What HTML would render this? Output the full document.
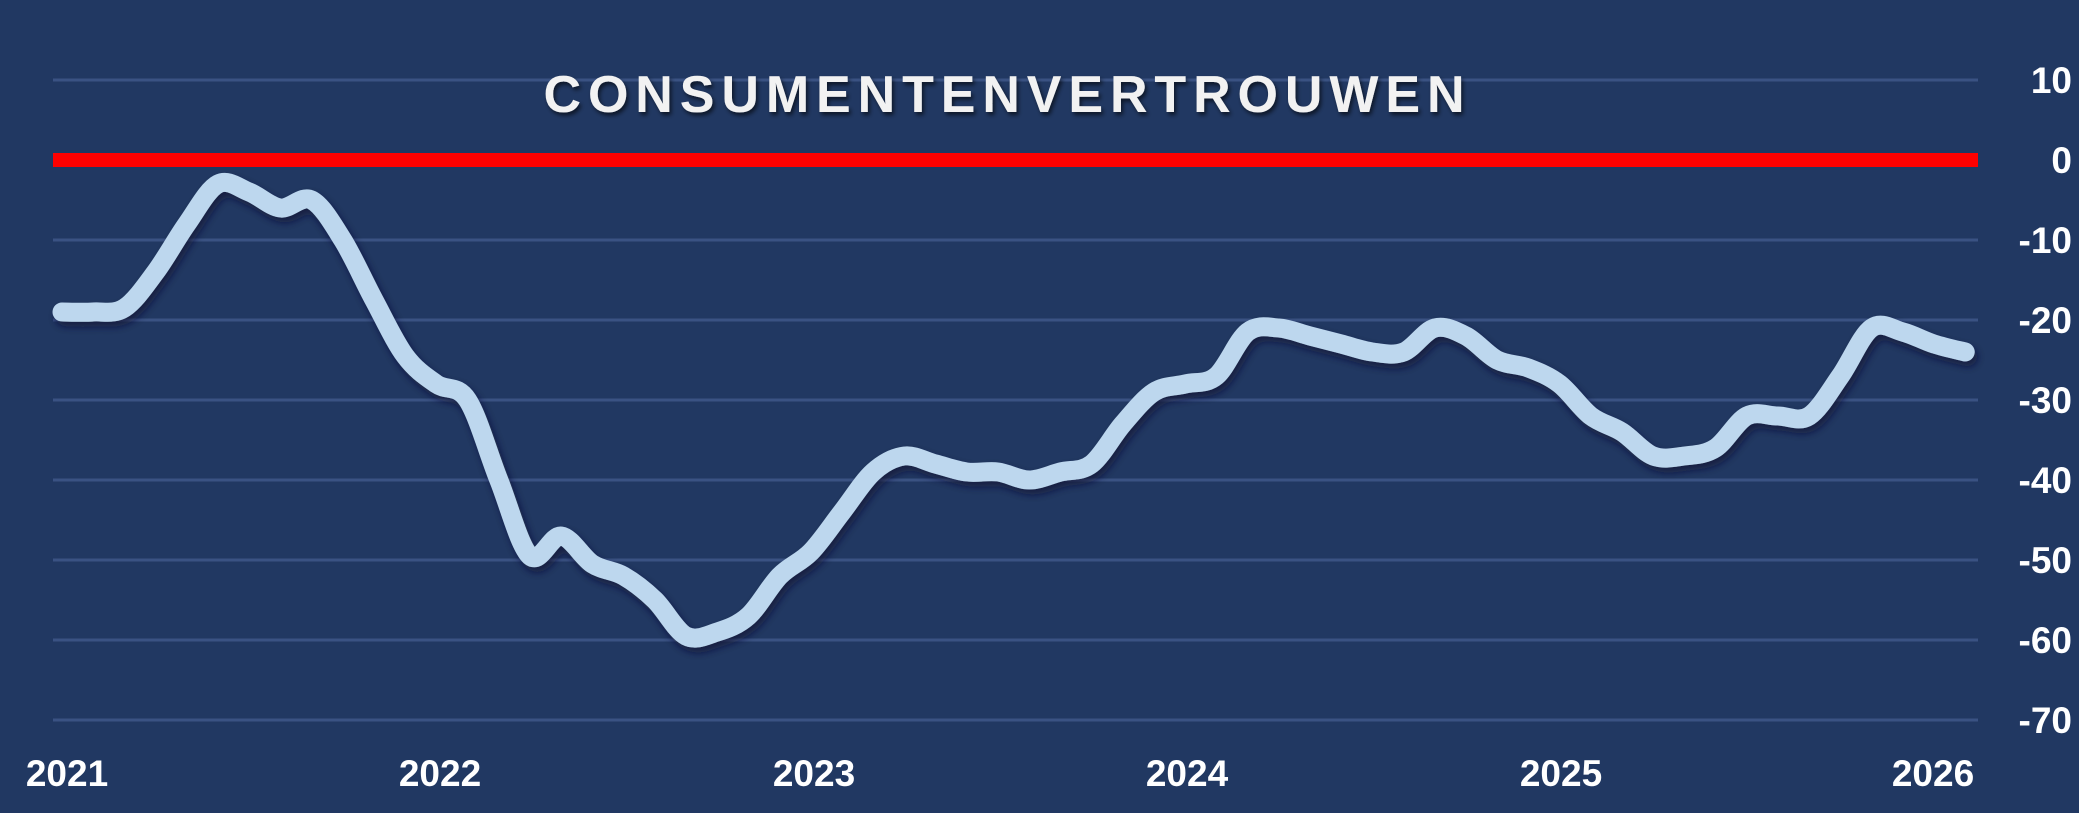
<!DOCTYPE html>
<html><head><meta charset="utf-8"><style>
html,body{margin:0;padding:0;background:#213862;}
svg{display:block}
</style></head><body>
<svg id="s" width="2079" height="813" viewBox="0 0 2079 813" xmlns="http://www.w3.org/2000/svg">
<defs><filter id="sh" x="-5%" y="-20%" width="110%" height="140%"><feDropShadow dx="3" dy="5" stdDeviation="4" flood-color="#0a1530" flood-opacity="0.7"/></filter>
<filter id="ts"><feDropShadow dx="2" dy="3" stdDeviation="2" flood-color="#000" flood-opacity="0.6"/></filter></defs>
<rect width="2079" height="813" fill="#213862"/>
<g stroke="#3a5283" stroke-width="3">
<line x1="53" x2="1978" y1="80" y2="80"/><line x1="53" x2="1978" y1="240" y2="240"/><line x1="53" x2="1978" y1="320" y2="320"/><line x1="53" x2="1978" y1="400" y2="400"/><line x1="53" x2="1978" y1="480" y2="480"/><line x1="53" x2="1978" y1="560" y2="560"/><line x1="53" x2="1978" y1="640" y2="640"/><line x1="53" x2="1978" y1="720" y2="720"/>
</g>
<rect x="53" y="153" width="1925" height="14" fill="#ff0000"/>
<text x="1004" y="112" text-anchor="middle" font-family="Liberation Sans, sans-serif" font-weight="bold" font-size="52" fill="#f2f2f2" textLength="921" lengthAdjust="spacing" filter="url(#ts)">CONSUMENTENVERTROUWEN</text>
<path id="ln" fill="none" stroke="#bdd7ee" stroke-width="19" stroke-linecap="round" stroke-linejoin="round" filter="url(#sh)"/>
<g font-family="Liberation Sans, sans-serif" font-weight="bold" font-size="37" fill="#ffffff" text-anchor="end">
<text x="2072" y="93">10</text><text x="2072" y="173">0</text><text x="2072" y="253">-10</text><text x="2072" y="333">-20</text><text x="2072" y="413">-30</text><text x="2072" y="493">-40</text><text x="2072" y="573">-50</text><text x="2072" y="653">-60</text><text x="2072" y="733">-70</text>
</g>
<g font-family="Liberation Sans, sans-serif" font-weight="bold" font-size="37" fill="#ffffff" text-anchor="middle">
<text x="67" y="786">2021</text><text x="440" y="786">2022</text><text x="814" y="786">2023</text><text x="1187" y="786">2024</text><text x="1561" y="786">2025</text><text x="1933" y="786">2026</text>
</g>
</svg>
<script>
var v=[-19,-19,-18.5,-14,-8,-3,-4,-6,-5,-10,-17.5,-24.5,
-28,-30,-40,-49.5,-47,-50.5,-52,-55,-59.5,-59,-57,-52,
-49,-44,-39,-37,-38,-39,-39,-40,-39,-38,-33,-29,
-28,-27,-21.5,-21,-22,-23,-24,-24,-21,-22,-25,-26,
-28,-32,-34,-37,-37,-36,-32,-32,-32,-27,-21,-21.5,
-23,-24];
var p=v.map(function(a,i){return [62+i*31.2,160-8*a];});
var d="M"+p[0][0]+","+p[0][1];
for(var i=0;i<p.length-1;i++){var p0=p[Math.max(0,i-1)],p1=p[i],p2=p[i+1],p3=p[Math.min(p.length-1,i+2)];
var c1x=p1[0]+(p2[0]-p0[0])/6,c1y=p1[1]+(p2[1]-p0[1])/6,c2x=p2[0]-(p3[0]-p1[0])/6,c2y=p2[1]-(p3[1]-p1[1])/6;
d+=" C"+c1x.toFixed(1)+","+c1y.toFixed(1)+" "+c2x.toFixed(1)+","+c2y.toFixed(1)+" "+p2[0].toFixed(1)+","+p2[1].toFixed(1);}
document.getElementById("ln").setAttribute("d",d);
</script>
</body></html>
